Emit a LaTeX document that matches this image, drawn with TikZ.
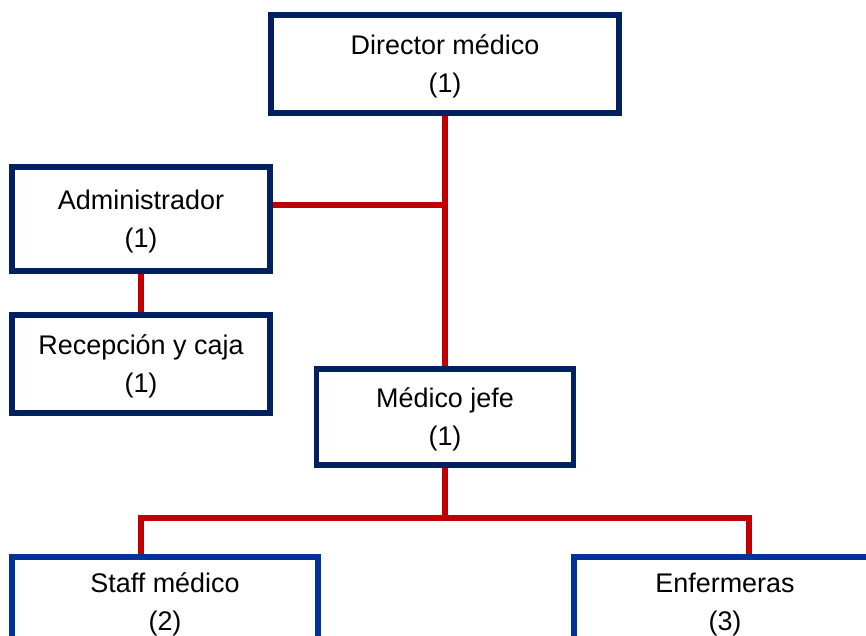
\documentclass[tikz,border=0pt]{standalone}
\usepackage{fontspec}
\setmainfont{Liberation Sans}
\usetikzlibrary{backgrounds}
\definecolor{navy}{HTML}{002060}
\definecolor{bblue}{HTML}{003399}
\definecolor{linkred}{HTML}{C00000}
\newcommand\tstrut{\rule{0pt}{19pt}}
\begin{document}
\begin{tikzpicture}[x=0.75pt,y=-0.75pt,
  box/.style={draw=navy, line width=4pt, fill=white, align=center, inner sep=0pt,
    font=\fontsize{20.2}{28.5}\selectfont},
  box2/.style={box, draw=bblue},
  link/.style={draw=linkred, line width=4pt}]
\useasboundingbox (0,0) rectangle (866,635);
\clip (0,0) rectangle (866,635);
% nodes
\node[box, minimum width=261pt, minimum height=73.5pt] (dir) at (445,64) {\tstrut Director médico\\(1)};
\node[box, minimum width=193.5pt, minimum height=78pt] (adm) at (141,219) {\tstrut Administrador\\(1)};
\node[box, minimum width=193.5pt, minimum height=73.5pt] (rec) at (141,364) {\tstrut Recepción y caja\\(1)};
\node[box, minimum width=192.75pt, minimum height=72pt] (mj) at (445,417) {\tstrut Médico jefe\\(1)};
\node[box2, minimum width=229.5pt, minimum height=67.5pt] (staff) at (165,602) {\tstrut Staff médico\\(2)};
\node[box2, minimum width=226.5pt, minimum height=67.5pt] (enf) at (725,602) {\tstrut Enfermeras\\(3)};
% connector coordinates
\coordinate (j1) at (445,205);
\coordinate (j2) at (445,518);
\coordinate (s1) at (141,518);
\coordinate (e1) at (749,518);
% connectors
\begin{scope}[on background layer]
\draw[link] (dir.south) -- (mj.north);
\draw[link] (adm.east |- j1) -- (j1);
\draw[link] (adm.south) -- (rec.north);
\draw[link] (mj.south) -- (j2);
\draw[link] (staff.north -| s1) -- (s1) -- (e1) -- (enf.north -| e1);
\end{scope}
\end{tikzpicture}
\end{document}
